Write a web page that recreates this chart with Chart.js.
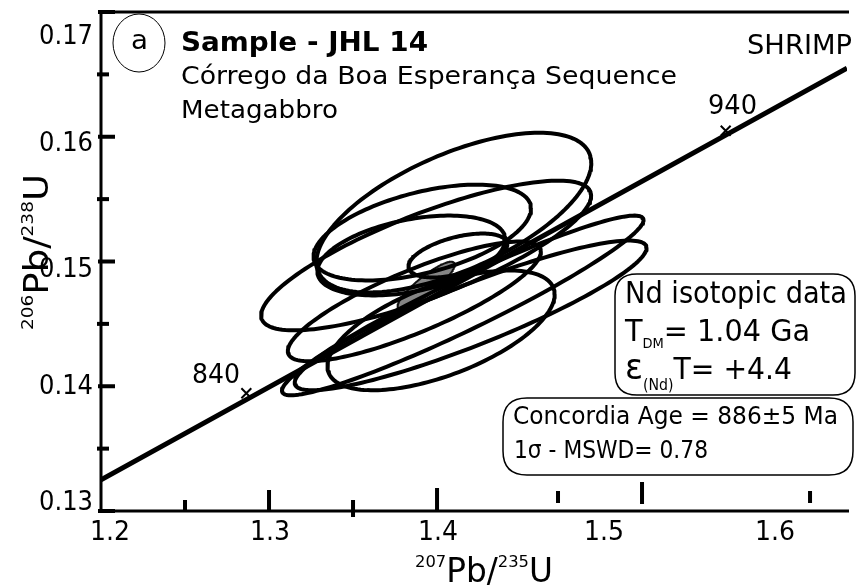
<!DOCTYPE html>
<html><head><meta charset="utf-8">
<script src="https://cdn.jsdelivr.net/npm/chart.js@4.4.0/dist/chart.umd.min.js"></script>
<style>html,body{margin:0;padding:0;background:#fff;}</style>
</head><body>
<canvas id="c" width="856" height="587"></canvas>
<script>
// ---------- data ----------
const xTickValues = [1.2, 1.3, 1.4, 1.5, 1.6];
const xTickLabels = ['1.2', '1.3', '1.4', '1.5', '1.6'];
const yTickValues = [0.13, 0.14, 0.15, 0.16, 0.17];
const yTickLabels = ['0.13', '0.14', '0.15', '0.16', '0.17'];
const yMinorTicks = [0.135, 0.145, 0.155, 0.165];
const xTickMarks = [1.25, 1.3, 1.35, 1.4, 1.472, 1.522, 1.622];

const concordiaX = [1.2, 1.644];
const concordiaY = [0.1325, 0.1655];

const ageLabels = ['840', '940'];
const ageX = [1.2865, 1.5718];
const ageY = [0.13944, 0.16048];

// spot error ellipses: centre, half-extent in x and y, correlation
const spotX   = [1.4100, 1.3935, 1.3912, 1.3847, 1.4124, 1.4024, 1.4153, 1.4200, 1.3865];
const spotY   = [0.15392, 0.15048, 0.15232, 0.15048, 0.15048, 0.14448, 0.14648, 0.14568, 0.14680];
const spotSX  = [0.0818, 0.0982, 0.0647, 0.0559, 0.0294, 0.0676, 0.1076, 0.1047, 0.0753];
const spotSY  = [0.00640, 0.0060, 0.00384, 0.0032, 0.00176, 0.0048, 0.0072, 0.0060, 0.0048];
const spotRho = [0.62, 0.80, 0.50, 0.40, 0.50, 0.60, 0.95, 0.90, 0.83];

// concordia age ellipse
const ageEllX = [1.3935];
const ageEllY = [0.14808];
const ageEllSX = [0.0170];
const ageEllSY = [0.00190];
const ageEllRho = [0.88];

// ---------- helpers ----------
function ellipsePts(cx, cy, sx, sy, r) {
  const pts = [], n = 160, q = Math.sqrt(1 - r * r);
  for (let i = 0; i <= n; i++) {
    const t = 2 * Math.PI * i / n;
    pts.push({x: cx + sx * Math.cos(t), y: cy + sy * (r * Math.cos(t) + q * Math.sin(t))});
  }
  return pts;
}
const FONT = '"DejaVu Sans", sans-serif';
function capFont(cap, bold) { return (bold ? 'bold ' : '') + (cap / 0.729).toFixed(2) + 'px ' + FONT; }
function fitText(ctx, text, x, base, cap, width, bold) {
  ctx.save();
  ctx.font = capFont(cap, bold);
  ctx.textAlign = 'left'; ctx.textBaseline = 'alphabetic';
  const w = ctx.measureText(text).width;
  const k = width ? width / w : 1;
  ctx.translate(x, base); ctx.scale(k, 1);
  ctx.fillText(text, 0, 0);
  ctx.restore();
}
// segments: [text, cap, dy]
function richText(ctx, segs, x, base, width, rotate) {
  ctx.save();
  ctx.textAlign = 'left'; ctx.textBaseline = 'alphabetic';
  let total = 0;
  const ws = segs.map(s => { ctx.font = capFont(s[1]); const w = ctx.measureText(s[0]).width; total += w; return w; });
  const k = width / total;
  ctx.translate(x, base);
  if (rotate) ctx.rotate(-Math.PI / 2);
  ctx.scale(k, 1);
  let cx = 0;
  segs.forEach((s, i) => { ctx.font = capFont(s[1]); ctx.fillText(s[0], cx, s[2]); cx += ws[i]; });
  ctx.restore();
}
function roundRect(ctx, x, y, w, h, r) {
  ctx.beginPath();
  ctx.moveTo(x + r, y);
  ctx.lineTo(x + w - r, y); ctx.quadraticCurveTo(x + w, y, x + w, y + r);
  ctx.lineTo(x + w, y + h - r); ctx.quadraticCurveTo(x + w, y + h, x + w - r, y + h);
  ctx.lineTo(x + r, y + h); ctx.quadraticCurveTo(x, y + h, x, y + h - r);
  ctx.lineTo(x, y + r); ctx.quadraticCurveTo(x, y, x + r, y);
  ctx.closePath();
}

// ---------- datasets ----------
const datasets = [];
spotX.forEach((_, i) => {
  datasets.push({
    data: ellipsePts(spotX[i], spotY[i], spotSX[i], spotSY[i], spotRho[i]),
    showLine: true, borderColor: '#000', borderWidth: 4, pointRadius: 0, fill: false, tension: 0,
    borderJoinStyle: 'round', borderCapStyle: 'round'
  });
});
ageEllX.forEach((_, i) => {
  datasets.push({
    data: ellipsePts(ageEllX[i], ageEllY[i], ageEllSX[i], ageEllSY[i], ageEllRho[i]),
    showLine: true, borderColor: '#111', borderWidth: 2, pointRadius: 0,
    fill: 'shape', backgroundColor: '#858585', tension: 0,
    borderJoinStyle: 'round', borderCapStyle: 'round'
  });
});
datasets.push({
  data: concordiaX.map((x, i) => ({x, y: concordiaY[i]})),
  showLine: true, borderColor: '#000', borderWidth: 5, pointRadius: 0, fill: false
});
datasets.push({
  data: ageX.map((x, i) => ({x, y: ageY[i]})),
  showLine: false, pointStyle: 'crossRot', pointRadius: 7, borderWidth: 2,
  borderColor: '#000', backgroundColor: '#000'
});

// ---------- overlay: frame, ticks, texts ----------
const overlay = {
  id: 'overlay',
  afterDraw(chart) {
    const ctx = chart.ctx, xs = chart.scales.x, ys = chart.scales.y;
    const L = chart.chartArea.left, R = chart.chartArea.right, T = chart.chartArea.top, B = chart.chartArea.bottom;
    ctx.save();
    ctx.fillStyle = '#000'; ctx.strokeStyle = '#000';
    // frame
    ctx.lineWidth = 3;
    ctx.beginPath();
    ctx.moveTo(R + 2, T); ctx.lineTo(L, T); ctx.lineTo(L, B); ctx.lineTo(R + 2, B);
    ctx.stroke();
    // y ticks
    yTickValues.forEach(v => { const p = ys.getPixelForValue(v); ctx.fillRect(L - 3, p - 2, 17, 4); });
    yMinorTicks.forEach(v => { const p = ys.getPixelForValue(v); ctx.fillRect(L - 4, p - 2, 12, 4); });
    // x tick marks (irregular as in the original figure)
    const ext = [[-11, 0], [-21, 0], [-11, 6], [-23, 0], [-20, -8], [-29, -7], [-20, -8]];
    xTickMarks.forEach((v, i) => {
      const p = xs.getPixelForValue(v);
      ctx.fillRect(p - 2, B + ext[i][0], 4, ext[i][1] - ext[i][0]);
    });
    // tick labels
    const yOff = [-11, -2, 5, 4, 22];
    yTickValues.forEach((v, i) => {
      const p = ys.getPixelForValue(v) + yOff[i];
      fitText(ctx, yTickLabels[i], 93 - 54, p + 10, 20, 54);
    });
    const xOff = [9, 1, 1, -1, 2];
    xTickValues.forEach((v, i) => {
      const p = xs.getPixelForValue(v) + xOff[i];
      fitText(ctx, xTickLabels[i], p - 20, 540, 20, 40);
    });
    // axis titles
    richText(ctx, [['207', 12, -15], ['Pb', 24, 0], ['/', 24, 0], ['235', 12, -15], ['U', 24, 0]], 415, 582, 138);
    richText(ctx, [['206', 12, -15], ['Pb', 24, 0], ['/', 24, 0], ['238', 12, -15], ['U', 24, 0]], 48, 330, 156, true);
    // age labels
    fitText(ctx, ageLabels[0], 192, 383, 19, 48);
    fitText(ctx, ageLabels[1], 708, 114, 20, 49);
    // panel letter
    ctx.lineWidth = 1;
    ctx.beginPath(); ctx.ellipse(139, 43, 26, 29, 0, 0, 2 * Math.PI); ctx.stroke();
    fitText(ctx, 'a', 131, 49, 19, 17);
    // titles
    fitText(ctx, 'Sample - JHL 14', 181, 51, 19, 247, true);
    fitText(ctx, 'Córrego da Boa Esperança Sequence', 181, 84, 18.5, 496);
    fitText(ctx, 'Metagabbro', 181, 118, 18.5, 157);
    fitText(ctx, 'SHRIMP', 747, 54, 20, 105);
    // Nd box
    ctx.lineWidth = 1.5;
    roundRect(ctx, 615, 274, 240, 121, 22); ctx.stroke();
    fitText(ctx, 'Nd isotopic data', 625, 303, 22, 222);
    richText(ctx, [['T', 22, 0], ['DM', 10, 7], ['= 1.04 Ga', 22, 0]], 625, 341, 185);
    richText(ctx, [['ε', 26, 0], ['(Nd)', 11, 11], ['T= +4.4', 22, 0]], 625, 379, 167);
    // concordia box
    roundRect(ctx, 503, 398, 350, 77, 24); ctx.stroke();
    fitText(ctx, 'Concordia Age = 886±5 Ma', 513, 424, 18, 325);
    fitText(ctx, '1σ - MSWD= 0.78', 514, 458, 18, 194);
    ctx.restore();
  }
};

new Chart(document.getElementById('c'), {
  type: 'scatter',
  data: {datasets},
  options: {
    responsive: false, animation: false, devicePixelRatio: 1,
    layout: {padding: {top: 12, left: 0, right: 0, bottom: 0}},
    plugins: {legend: {display: false}, tooltip: {enabled: false}},
    scales: {
      x: {type: 'linear', min: 1.2, max: 1.644, ticks: {display: false}, grid: {display: false}, border: {display: false},
          afterFit(s) { s.height = 76; }},
      y: {type: 'linear', min: 0.13, max: 0.17, ticks: {display: false}, grid: {display: false}, border: {display: false},
          afterFit(s) { s.width = 101; }}
    }
  },
  plugins: [overlay]
});
</script>
</body></html>
